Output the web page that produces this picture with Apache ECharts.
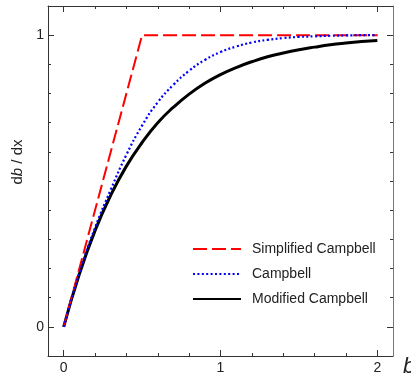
<!DOCTYPE html>
<html>
<head>
<meta charset="utf-8">
<script src="https://cdn.jsdelivr.net/npm/echarts@6/dist/echarts.min.js"></script>
<style>html,body{margin:0;padding:0;background:#fff}#c{width:411px;height:374px}</style>
</head>
<body>
<div id="c"></div>
<script>
// b values (x axis)
const bValues = [0,0.1,0.2,0.3,0.4,0.5,0.6,0.7,0.8,0.9,1.0,1.1,1.2,1.3,1.4,1.5,1.6,1.7,1.8,1.9,2.0];
// Campbell (blue dotted)
const campbell = [0,0.185,0.34,0.47,0.59,0.69,0.77,0.83,0.878,0.915,0.942,0.961,0.975,0.984,0.99,0.994,0.996,0.998,0.999,1.0,1.0];
// Modified Campbell (black solid)
const modifiedCampbell = [0,0.181,0.33,0.451,0.551,0.632,0.70,0.753,0.798,0.835,0.865,0.889,0.909,0.926,0.939,0.95,0.959,0.967,0.973,0.978,0.982];
// Simplified Campbell (red dashed), breakpoints
const simplifiedB = [0,0.5,2.0];
const simplified = [0,1,1];
// ticks
const xMajorTicks = [0,1,2];
const xMinorTicks = [0,0.2,0.4,0.6,0.8,1.0,1.2,1.4,1.6,1.8,2.0];
const yMajorTicks = [0,1];
const yMinorTicks = [0,0.1,0.2,0.3,0.4,0.5,0.6,0.7,0.8,0.9,1.0];
const seriesNames = ['Simplified Campbell','Campbell','Modified Campbell'];

const FONT = "'Liberation Sans', Arial, sans-serif";
const AX = '#333';
const zip = (xs, ys) => xs.map((x,i)=>[x, ys[i]]);

function xAxisDef(pos, ticks, len, showLine, showLabel, extra) {
  return Object.assign({
    type:'value', position:pos, min:-0.1, max:2.1, gridIndex:0,
    axisLine:{show:showLine, onZero:false, lineStyle:{color:AX, width:1}},
    axisTick:{show:true, inside:true, length:len, customValues:ticks, lineStyle:{color:AX}},
    axisLabel:{show:showLabel, customValues:xMajorTicks, fontFamily:FONT, fontSize:14, color:'#222', margin:5},
    splitLine:{show:false}
  }, extra||{});
}
function yAxisDef(pos, ticks, len, showLine, showLabel, extra) {
  return Object.assign({
    type:'value', position:pos, min:-0.1, max:1.1, gridIndex:0,
    axisLine:{show:showLine, onZero:false, lineStyle:{color:pos==='right'?'#777':AX, width:1}},
    axisTick:{show:true, inside:true, length:len, customValues:ticks, lineStyle:{color:AX}},
    axisLabel:{show:showLabel, customValues:yMajorTicks, fontFamily:FONT, fontSize:14, color:'#222', margin:4},
    splitLine:{show:false}
  }, extra||{});
}

const chart = echarts.init(document.getElementById('c'), null, {renderer:'canvas'});
chart.setOption({
  animation:false,
  backgroundColor:'#fff',
  grid:{left:48, right:18, top:6, bottom:18, containLabel:false, outerBoundsMode:'none'},
  xAxis:[
    xAxisDef('bottom', xMajorTicks, 6, true, true, {
      name:'b', nameLocation:'end', nameGap:10,
      nameTextStyle:{fontFamily:FONT, fontSize:22, fontStyle:'italic', color:'#222', verticalAlign:'top', padding:[0,0,0,0]}
    }),
    xAxisDef('bottom', xMinorTicks, 3, false, false),
    xAxisDef('top', xMajorTicks, 6, true, false),
    xAxisDef('top', xMinorTicks, 3, false, false)
  ],
  yAxis:[
    yAxisDef('left', yMajorTicks, 6, true, true, {
      name:'{n|d}{i|b}{n| / dx}', nameLocation:'middle', nameGap:14, nameRotate:90,
      nameTextStyle:{padding:[0,0,0,38], rich:{
        n:{fontFamily:FONT, fontSize:15, color:'#222'},
        i:{fontFamily:FONT, fontSize:15, color:'#222', fontStyle:'italic'}
      }}
    }),
    yAxisDef('left', yMinorTicks, 3, false, false),
    yAxisDef('right', yMajorTicks, 6, true, false),
    yAxisDef('right', yMinorTicks, 3, false, false)
  ],
  legend:{
    orient:'vertical', left:192, top:242, itemWidth:48, itemHeight:14, itemGap:11, padding:0,
    data:seriesNames,
    itemStyle:{opacity:0, borderWidth:0},
    textStyle:{fontFamily:FONT, fontSize:14, color:'#222', padding:[0,0,0,6]}
  },
  series:[
    {name:seriesNames[0], type:'line', data:zip(simplifiedB, simplified), symbol:'none', z:3,
     lineStyle:{color:'#ff0000', width:2, type:[14,5]}, itemStyle:{color:'#ff0000'}},
    {name:seriesNames[1], type:'line', data:zip(bValues, campbell), symbol:'none', smooth:true, z:4,
     lineStyle:{color:'#0000ff', width:2.2, type:[2,2.4]}, itemStyle:{color:'#0000ff'}},
    {name:seriesNames[2], type:'line', data:zip(bValues, modifiedCampbell), symbol:'none', smooth:true, z:2,
     lineStyle:{color:'#000000', width:3}, itemStyle:{color:'#000000'}}
  ]
});
</script>
</body>
</html>
